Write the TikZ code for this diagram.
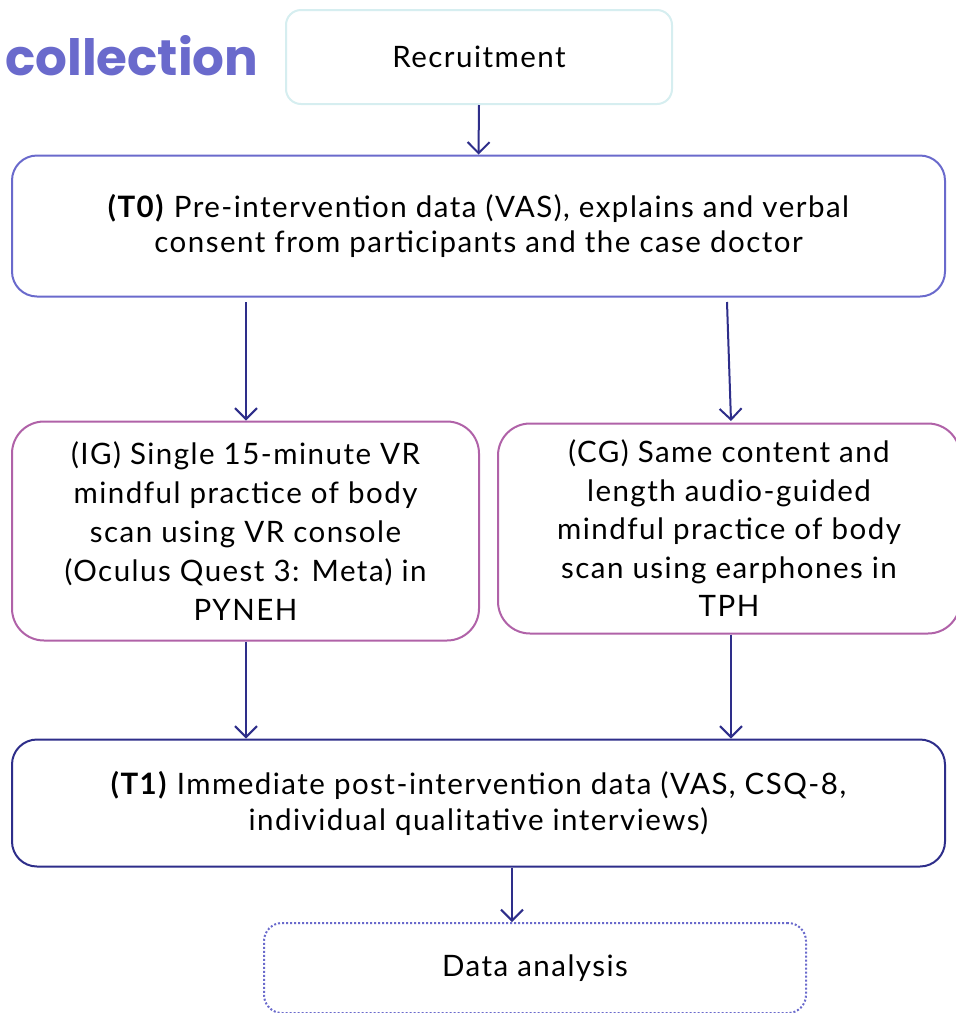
\documentclass[tikz,border=0pt]{standalone}
\usepackage{fontspec}
\setmainfont{Lato}[LetterSpace=5]
\newfontfamily\headfont{Poppins}
\usetikzlibrary{arrows.meta}
\definecolor{teal1}{HTML}{D6EEF0}
\definecolor{peri}{HTML}{6A6ACC}
\definecolor{magen}{HTML}{B062A8}
\definecolor{navy}{HTML}{2E2E8A}
\tikzset{
  box/.style={rounded corners=#1, line width=2pt, fill=white, align=center, inner sep=0pt, font=\fontsize{29.5}{38}\selectfont},
  conn/.style={draw=navy, line width=2pt, -{Straight Barb[length=11pt,width=22pt,line width=2pt]}},
}
\begin{document}
\begin{tikzpicture}[x=1pt,y=-1pt]
\useasboundingbox (0,0) rectangle (956,1013);
\node[font=\headfont\bfseries\fontsize{50}{54}\selectfont, text=peri, anchor=base west, inner sep=0pt] (title) at (5,75) {collection};
\node[box=15pt, draw=teal1, minimum width=386pt, minimum height=94pt] (rec) at (479,57) {Recruitment};
\node[box=25pt, draw=peri, minimum width=933pt, minimum height=141pt, font=\fontsize{29.5}{35}\selectfont] (t0) at (478.5,226) {\textbf{(T0)} Pre-intervention data (VAS), explains and verbal\\consent from participants and the case doctor};
\node[box=32pt, draw=magen, minimum width=467pt, minimum height=219pt, font=\fontsize{29.5}{39}\selectfont] (ig) at (245.5,531) {(IG) Single 15-minute VR\\mindful practice of body\\scan using VR console\\(Oculus Quest 3: Meta) in\\PYNEH};
\node[box=32pt, draw=magen, minimum width=462pt, minimum height=210pt, font=\fontsize{29.5}{38.5}\selectfont] (cg) at (729,528.5) {(CG) Same content and\\length audio-guided\\mindful practice of body\\scan using earphones in\\TPH};
\node[box=25pt, draw=navy, minimum width=933pt, minimum height=127pt, font=\fontsize{29.5}{36}\selectfont] (t1) at (478.5,803) {\textbf{(T1)} Immediate post-intervention data (VAS, CSQ-8,\\individual qualitative interviews)};
\node[box=18pt, draw=peri, dotted, minimum width=542pt, minimum height=90pt] (da) at (535,968) {Data analysis};
\coordinate (a1) at (246,302);
\coordinate (a2) at (727,302);
\draw[conn] (rec.south) -- (t0.north);
\draw[conn] (a1) -- (ig.north -| a1);
\draw[conn] (a2) -- (731,421);
\draw[conn] (ig.south -| a1) -- (t1.north -| a1);
\draw[conn] (cg.south -| 731,0) -- (t1.north -| 731,0);
\draw[conn] (t1.south -| 512,0) -- (da.north -| 512,0);
\end{tikzpicture}
\end{document}
